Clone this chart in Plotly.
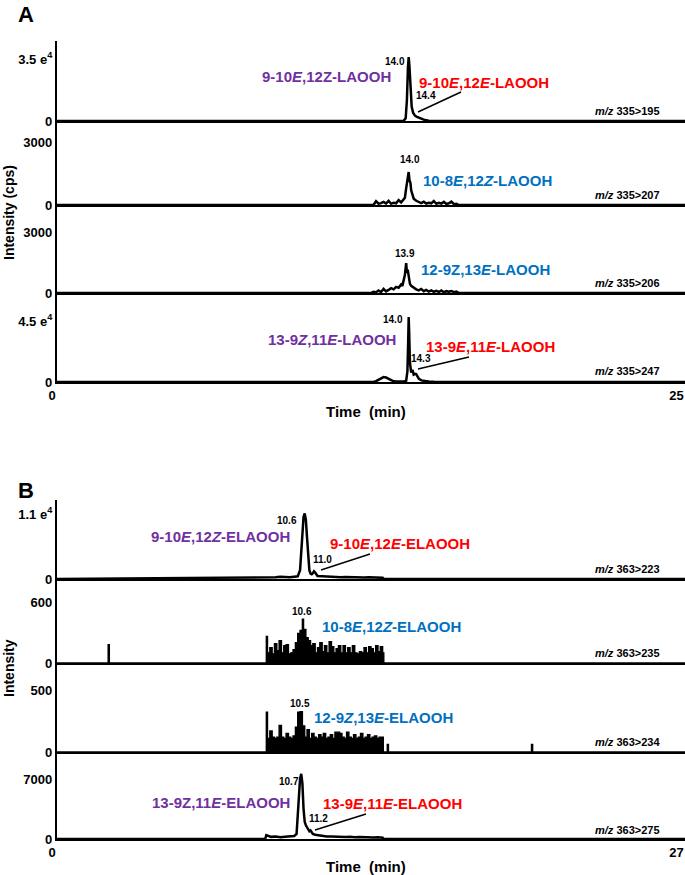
import plotly.graph_objects as go

W, H = 685, 875

# ---------------- data (time in min, intensity) ----------------
# Panel A (LAOOH), x range 0-25
a1_t = [0, 13.5, 13.8, 13.88, 13.93, 13.97, 14.0, 14.03, 14.07, 14.12, 14.18, 14.25, 14.33, 14.4, 14.5, 14.65, 14.8, 15.0, 25]
a1_i = [0, 0, 100, 1500, 12000, 30000, 36100, 31000, 18000, 8000, 4500, 3000, 2300, 1900, 1200, 500, 200, 0, 0]

a2_t = [0, 12.6, 12.7, 12.8, 12.9, 13.0, 13.1, 13.2, 13.3, 13.4, 13.5, 13.6, 13.7, 13.8, 13.85, 13.9, 13.95, 14.0,
        14.03, 14.07, 14.1, 14.15, 14.2, 14.3, 14.4, 14.5, 14.6, 14.7, 14.8, 14.9, 15.0, 15.1, 15.2, 15.3, 15.4,
        15.5, 15.6, 15.7, 15.8, 15.9, 16.0, 25]
a2_i = [0, 0, 180, 60, 90, 150, 70, 200, 60, 110, 80, 230, 120, 250, 350, 800, 1300, 1570,
        1200, 1050, 700, 450, 300, 200, 140, 90, 160, 70, 110, 80, 190, 60, 100, 70, 150,
        50, 80, 160, 40, 60, 0, 0]

a3_t = [0, 12.5, 12.6, 12.7, 12.8, 12.9, 13.0, 13.1, 13.2, 13.3, 13.4, 13.5, 13.6, 13.7, 13.75, 13.8, 13.85, 13.9,
        13.93, 13.96, 14.0, 14.05, 14.1, 14.2, 14.3, 14.4, 14.5, 14.6, 14.7, 14.8, 14.9, 15.0, 15.1, 15.2, 15.3,
        15.4, 15.5, 15.6, 15.7, 15.8, 15.9, 16.0, 25]
a3_i = [0, 0, 60, 40, 120, 50, 200, 80, 150, 240, 180, 300, 260, 420, 350, 650, 900, 1475,
        1000, 1150, 700, 450, 350, 250, 180, 130, 200, 90, 150, 70, 130, 60, 110, 50, 120,
        40, 90, 60, 100, 40, 70, 0, 0]

a4_t = [0, 12.6, 12.7, 12.8, 12.9, 13.0, 13.1, 13.2, 13.3, 13.4, 13.5, 13.6, 13.7, 13.8, 13.9, 13.95, 13.98, 14.0,
        14.02, 14.05, 14.1, 14.15, 14.2, 14.25, 14.3, 14.35, 14.4, 14.5, 14.6, 14.7, 14.8, 15.0, 15.2, 15.5, 15.8, 25]
a4_i = [0, 0, 600, 1800, 3000, 3600, 3300, 2400, 1200, 500, 300, 200, 250, 300, 900, 8000, 30000, 47900,
        36000, 14000, 7000, 9000, 5500, 6000, 5800, 4000, 2500, 1200, 800, 500, 400, 250, 200, 150, 0, 0]

# Panel B (ELAOOH), x range 0-27
b1_t = [0, 9.0, 9.2, 9.4, 9.6, 9.8, 10.0, 10.2, 10.35, 10.45, 10.5, 10.55, 10.6, 10.65, 10.7, 10.75, 10.8, 10.85,
        10.9, 10.95, 11.0, 11.05, 11.1, 11.15, 11.2, 11.4, 11.6, 11.8, 12.0, 12.2, 12.4, 12.6, 12.8, 13.0, 13.2,
        13.4, 13.6, 13.8, 14.0, 14.05, 27]
b1_i = [0, 250, 350, 300, 400, 350, 300, 400, 450, 1500, 4000, 8000, 10500, 11100, 10000, 7000, 3500, 1500,
        900, 800, 1000, 1300, 1100, 700, 500, 450, 400, 350, 400, 300, 350, 300, 250, 300, 250,
        280, 230, 250, 200, 0, 0]

b2_t = [0, 2.15, 2.2, 2.25, 8.95, 9.0, 9.05, 9.15, 9.25, 9.35, 9.45, 9.55, 9.65, 9.75, 9.85, 9.95, 10.05, 10.15,
        10.25, 10.35, 10.45, 10.55, 10.6, 10.7, 10.8, 10.9, 11.0, 11.1, 11.2, 11.3, 11.4, 11.5, 11.6, 11.7, 11.8,
        11.9, 12.0, 12.1, 12.2, 12.3, 12.4, 12.5, 12.6, 12.7, 12.8, 12.9, 13.0, 13.1, 13.2, 13.3, 13.4, 13.5,
        13.6, 13.7, 13.8, 13.9, 14.0, 14.05, 27]
b2_i = [0, 0, 180, 0, 0, 260, 100, 150, 90, 190, 120, 220, 100, 170, 180, 90, 100, 130,
        200, 290, 320, 430, 330, 250, 220, 170, 190, 100, 150, 200, 110, 170, 100, 210, 160,
        100, 140, 170, 100, 170, 100, 150, 100, 170, 100, 90, 110, 100, 150, 100, 160, 140,
        100, 170, 110, 160, 100, 0, 0]

b3_t = [0, 8.95, 9.0, 9.05, 9.15, 9.25, 9.35, 9.45, 9.55, 9.65, 9.75, 9.85, 9.95, 10.05, 10.15, 10.25, 10.35,
        10.45, 10.55, 10.65, 10.75, 10.85, 10.95, 11.05, 11.15, 11.25, 11.35, 11.45, 11.55, 11.65, 11.75, 11.85,
        11.95, 12.05, 12.15, 12.25, 12.35, 12.45, 12.55, 12.65, 12.75, 12.85, 12.95, 13.05, 13.15, 13.25, 13.35,
        13.45, 13.55, 13.65, 13.75, 13.85, 13.95, 14.03, 14.15, 14.2, 14.25, 20.35, 20.4, 20.45, 27]
b3_i = [0, 0, 320, 110, 170, 120, 110, 120, 215, 120, 110, 150, 120, 110, 130, 200, 320,
        325, 210, 120, 180, 110, 150, 120, 110, 140, 120, 150, 110, 120, 140, 110,
        160, 160, 150, 120, 110, 160, 120, 110, 140, 110, 120, 150, 110, 120, 140,
        110, 120, 130, 110, 120, 120, 0, 0, 60, 0, 0, 60, 0, 0]

b4_t = [0, 8.95, 9.0, 9.2, 9.4, 9.6, 9.8, 10.0, 10.2, 10.3, 10.35, 10.4, 10.45, 10.5, 10.55, 10.6, 10.65, 10.7,
        10.75, 10.8, 10.85, 10.9, 10.95, 11.0, 11.1, 11.2, 11.4, 11.6, 11.8, 12.0, 12.2, 12.4, 12.6, 12.8, 13.0,
        13.2, 13.4, 13.6, 13.8, 14.0, 14.05, 27]
b4_i = [0, 0, 450, 250, 300, 200, 250, 300, 350, 600, 2500, 5500, 7000, 7600, 6500, 3500, 2000, 1600,
        1300, 1100, 900, 1000, 800, 600, 500, 450, 350, 300, 280, 250, 300, 220, 260, 200, 240,
        200, 230, 180, 200, 150, 0, 0]

# tick values / labels
x_max_a, x_max_b = 25, 27
y_tick_vals = [35000, 3000, 3000, 45000, 11000, 600, 500, 7000]
y_tick_text = ["3.5 e<sup>4</sup>", "3000", "3000", "4.5 e<sup>4</sup>",
               "1.1 e<sup>4</sup>", "600", "500", "7000"]
transitions = ["335&gt;195", "335&gt;207", "335&gt;206", "335&gt;247",
               "363&gt;223", "363&gt;235", "363&gt;234", "363&gt;275"]

series = [(a1_t, a1_i, False), (a2_t, a2_i, False), (a3_t, a3_i, False), (a4_t, a4_i, False),
          (b1_t, b1_i, False), (b2_t, b2_i, True), (b3_t, b3_i, True), (b4_t, b4_i, False)]
for t, v, _ in series:
    assert len(t) == len(v)

# ---------------- layout geometry (pixels) ----------------
X_LEFT = 57
# (bottom_px, top_px, tick_px)
geom = [(121, 41, 59), (205, 121, 142), (293, 205, 232), (382, 293, 321),
        (579, 500, 514), (663, 579, 602), (752, 663, 690), (839, 752, 779)]

FONT = "Liberation Sans, Arial, Helvetica, sans-serif"
fig = go.Figure()
layout = dict(width=W, height=H, margin=dict(l=0, r=0, t=0, b=0, autoexpand=False),
              paper_bgcolor="white", plot_bgcolor="white", showlegend=False,
              font=dict(family=FONT, color="black"))

for k in range(8):
    n = k + 1
    sfx = "" if n == 1 else str(n)
    t, v, step = series[k]
    bot, top, tickpx = geom[k]
    ymax = y_tick_vals[k] * (bot - top) / (bot - tickpx)
    xmax = x_max_a if k < 4 else x_max_b
    bottom_axis = k in (3, 7)
    fig.add_trace(go.Scatter(
        x=t, y=v, mode="lines", xaxis="x" + sfx, yaxis="y" + sfx,
        line=dict(color="black", width=1.4 if step else 2.5, shape="hv" if step else "linear"),
        fill="tozeroy" if step else None, fillcolor="black", hoverinfo="skip"))
    layout["xaxis" + sfx] = dict(
        domain=[X_LEFT / W, 1], range=[0, xmax], anchor="y" + sfx, automargin=False,
        showline=True, linecolor="black", linewidth=2.4, showgrid=False, zeroline=False,
        tickvals=[0, xmax], ticks="", showticklabels=bottom_axis,
        ticklabelposition="outside left", ticklabeloverflow="allow",
        tickfont=dict(size=13, family=FONT, weight="bold"))
    layout["yaxis" + sfx] = dict(
        domain=[1 - bot / H, 1 - top / H], range=[0, ymax], anchor="x" + sfx, automargin=False,
        showline=True, linecolor="black", linewidth=2.4, showgrid=False, zeroline=False,
        tickvals=[0, y_tick_vals[k]], ticktext=["0", y_tick_text[k]], ticks="",
        ticklabeloverflow="allow",
        tickfont=dict(size=13, family=FONT, weight="bold"))

PURPLE, RED, BLUE = "#7030A0", "#FF0000", "#0070C0"
ann = []


def add(text, px, py, size=10, color="black", xanchor="center", angle=0):
    ann.append(dict(text=text, x=px / W, y=1 - py / H, xref="paper", yref="paper",
                    showarrow=False, xanchor=xanchor, yanchor="middle", textangle=angle,
                    font=dict(size=size, color=color, family=FONT, weight="bold")))


# panel letters and axis titles
add("A", 26, 15, size=22)
add("B", 26, 490, size=22)
add("Time&nbsp;&nbsp;(min)", 366, 411, size=15)
add("Time&nbsp;&nbsp;(min)", 366, 866, size=15)
add("Intensity (cps)", 9, 213, size=14, angle=-90)
add("Intensity", 9, 668, size=14, angle=-90)

# m/z labels
mz_y = [111, 195, 283, 371, 569, 653, 742, 830]
for k in range(8):
    add("<i>m/z</i> " + transitions[k], 662, mz_y[k], size=11, xanchor="right")

# peak retention labels
for txt, px, py in [("14.0", 395, 62), ("14.4", 426, 96), ("14.0", 410, 160), ("13.9", 405, 253),
                    ("14.0", 393, 319), ("14.3", 421, 358), ("10.6", 287, 520), ("11.0", 322, 559),
                    ("10.6", 302, 611), ("10.5", 300, 703), ("10.7", 289, 781), ("11.2", 318, 818)]:
    add(txt, px, py, size=10)

# compound labels
add("9-10<i>E</i>,12Z-LAOOH", 326, 76, 15, PURPLE)
add("9-10<i>E</i>,12<i>E</i>-LAOOH", 417, 82, 15, RED, "left")
add("10-8<i>E</i>,12<i>Z</i>-LAOOH", 421, 180, 15, BLUE, "left")
add("12-9Z,13<i>E</i>-LAOOH", 419, 270, 15, BLUE, "left")
add("13-9<i>Z</i>,11<i>E</i>-LAOOH", 332, 339, 15, PURPLE)
add("13-9<i>E</i>,11<i>E</i>-LAOOH", 424, 346, 15, RED, "left")
add("9-10<i>E</i>,12<i>Z</i>-ELAOOH", 220, 536, 15, PURPLE)
add("9-10<i>E</i>,12<i>E</i>-ELAOOH", 328, 543, 15, RED, "left")
add("10-8<i>E</i>,12<i>Z</i>-ELAOOH", 320, 626, 15, BLUE, "left")
add("12-9<i>Z</i>,13<i>E</i>-ELAOOH", 312, 717, 15, BLUE, "left")
add("13-9Z,11<i>E</i>-ELAOOH", 221, 802, 15, PURPLE)
add("13-9<i>E</i>,11<i>E</i>-ELAOOH", 321, 803, 15, RED, "left")

shapes = []
for (x0, y0, x1, y1) in [(418, 112, 461, 92), (418, 369, 469, 357), (321, 570, 370, 554), (315, 830, 366, 814)]:
    shapes.append(dict(type="line", xref="paper", yref="paper",
                       x0=x0 / W, y0=1 - y0 / H, x1=x1 / W, y1=1 - y1 / H,
                       line=dict(color="black", width=1.5)))

layout["annotations"] = ann
layout["shapes"] = shapes
fig.update_layout(**layout)
fig.write_html("out.html", config={"responsive": False, "displayModeBar": False},
               post_script="document.body.style.margin='0px';document.body.style.overflow='hidden';")
